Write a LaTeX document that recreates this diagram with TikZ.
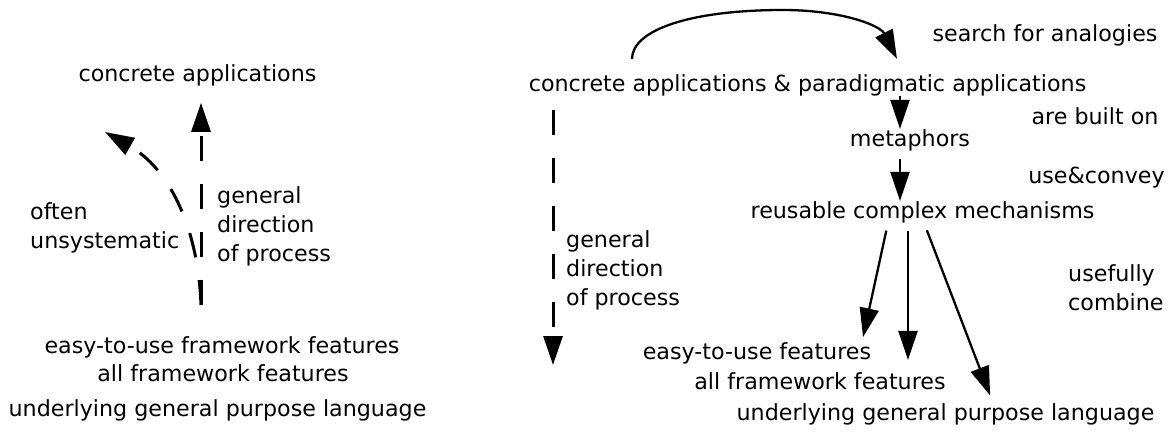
\documentclass[tikz,border=0pt]{standalone}
\usepackage{fontspec}
\setmainfont{DejaVu Sans}
\usetikzlibrary{arrows.meta}
\begin{document}
\begin{tikzpicture}[x=1pt,y=-1pt,
  lbl/.style={inner sep=0pt, anchor=base, font=\fontsize{22.2}{29}\selectfont},
  lblw/.style={lbl, anchor=base west, align=left},
  arr/.style={line width=2.3pt, -{Triangle[length=29pt,width=19pt]}},
  darr/.style={line width=3pt, dash pattern=on 25pt off 23pt, -{Triangle[length=29pt,width=19pt]}}]
\useasboundingbox (0,0) rectangle (1169,431);

% ---- left part ----
\node[lbl] (ca1) at (197.5,81) {concrete applications};
\node[lblw] (unsys) at (30,248) {often\\unsystematic};
\node[lblw] (gd1) at (217,261) {general\\direction\\of process};
\node[lbl] (ef1) at (222,353) {easy-to-use framework features};
\node[lbl] (af1) at (223,381) {all framework features};
\node[lbl] (ug1) at (217.5,416) {underlying general purpose language};

\coordinate (L0) at (201,305);
\coordinate (L1) at (105,132);
\draw[darr, shorten >=17pt] (L0) -- (ca1.south -| L0);
\draw[darr] (L0) .. controls (198,225) and (168,168) .. (L1);

% ---- right part ----
\node[lbl] (sfa) at (1045,41) {search for analogies};
\node[lbl] (ca2) at (807.5,91) {concrete applications \& paradigmatic applications};
\node[lbl] (abo) at (1095,124) {are built on};
\node[lbl] (met) at (910,146) {metaphors};
\node[lbl] (uc) at (1096.5,183) {use\&convey};
\node[lbl] (rcm) at (922.5,218) {reusable complex mechanisms};
\node[lblw] (gd2) at (566,305) {general\\direction\\of process};
\node[lblw] (ucomb) at (1068,310) {usefully\\combine};
\node[lbl] (eu2) at (757,359) {easy-to-use features};
\node[lbl] (af2) at (820,389) {all framework features};
\node[lbl] (ug2) at (945.5,420) {underlying general purpose language};

\coordinate (R0) at (553,110);
\coordinate (R1) at (553,365);
\draw[darr] (R0) -- (R1);

\coordinate (c0) at (632,59);
\coordinate (c1) at (783,10);
\coordinate (c2) at (897,59);
\draw[arr] (c0) .. controls (632,30) and (690,10) .. (c1) .. controls (840,10) and (880,25) .. (c2);

\draw[arr] (ca2.south -| 900,0) -- (met.north -| 900,0);
\draw[arr, shorten <=8pt] (met.south -| 900,0) -- (rcm.north -| 900,0);
\draw[arr, shorten <=8pt, shorten >=5pt] (rcm.south -| 888,0) -- (eu2.north -| 862,0);
\draw[arr, shorten <=8pt, shorten >=12pt] (rcm.south -| 908,0) -- (af2.north -| 908,0);
\draw[arr, shorten <=8pt, shorten >=8pt] (rcm.south -| 924,0) -- (ug2.north -| 993,0);
\end{tikzpicture}
\end{document}
